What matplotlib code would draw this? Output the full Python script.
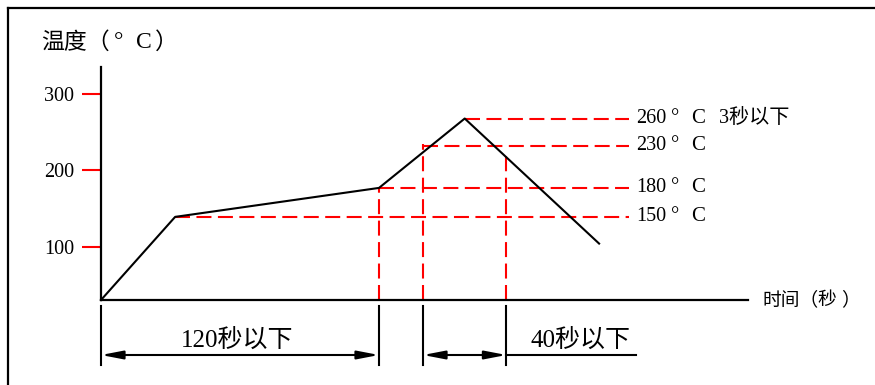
import matplotlib
matplotlib.use("Agg")
import matplotlib.pyplot as plt
from matplotlib.lines import Line2D

# ---- data (schematic reflow profile) ----
profile_time = [0, 32, 120, 157, 215]          # s
profile_temp = [30, 139, 177, 268, 104]        # °C (as drawn)

ref_temp_pos = [268, 232, 177, 139]            # drawn heights of the reference lines
ref_start_time = [157, 139, 120, 32]           # where each dashed line starts
ref_values = ["260", "230", "180", "150"]
ref_end_time = 228

vert_time = [120, 139, 175]                    # red vertical dashed markers
vert_top = [177, 235, 222]

ytick_vals = [100, 200, 300]
ytick_labels = ["100", "200", "300"]

dim1 = (0, 120, "120秒以下")
dim2 = (139, 175, "40秒以下")
dim_text_end = 231

# ---- scales: pixel mapping of the original diagram ----
PX_PER_S = 2.3167
PX_PER_C = 0.7625
W, H = 875, 385
X0, Y0 = 101, 300   # pixel of origin (t=0, T=30)

def tx(p):  # pixel x -> time
    return (p - X0) / PX_PER_S

def ty(p):  # pixel y -> temp
    return 30 + (Y0 - p) / PX_PER_C

serif = ["Liberation Serif", "Noto Sans CJK SC"]
cjk = ["Noto Sans CJK SC", "Liberation Serif"]

fig = plt.figure(figsize=(W / 100, H / 100), dpi=100)
ax = fig.add_axes([0, 0, 1, 1])
ax.set_xlim(tx(0), tx(W))
ax.set_ylim(ty(H), ty(0))

# spines as the diagram axes
for s in ["top", "right"]:
    ax.spines[s].set_visible(False)
ax.spines["left"].set_position(("data", 0))
ax.spines["bottom"].set_position(("data", 30))
ax.spines["left"].set_bounds(30, ty(67))
ax.spines["bottom"].set_bounds(0, tx(748))
for s in ["left", "bottom"]:
    ax.spines[s].set_linewidth(1.6)
    ax.spines[s].set_color("black")
ax.set_xticks([])
ax.set_yticks(ytick_vals)
ax.set_yticklabels(ytick_labels, family=serif, fontsize=14.5)
ax.tick_params(axis="y", direction="out", length=13.5, width=1.5, color="red", pad=6)
ax.patch.set_alpha(0)

# frame (top + left border)
fig.add_artist(Line2D([8 / W, 1], [1 - 8 / H, 1 - 8 / H], color="black", lw=1.6))
fig.add_artist(Line2D([8 / W, 8 / W], [0, 1 - 8 / H], color="black", lw=1.6))

dash = (0, (7.2, 3.1))
red = "#ff0000"

# reference horizontal lines with labels
for yv, xs, val in zip(ref_temp_pos, ref_start_time, ref_values):
    ax.plot([xs, ref_end_time], [yv, yv], color=red, lw=1.5, linestyle=dash)
    ax.text(ref_end_time + 3, yv, val, family=serif, fontsize=14.5, va="center", ha="left")
    ax.text(tx(671), yv, "°", family=serif, fontsize=15, va="center", ha="left")
    ax.text(tx(691), yv, "C", family=serif, fontsize=15, va="center", ha="left")
ax.text(tx(719), ref_temp_pos[0], "3秒以下", family=serif, fontsize=14.5, va="center", ha="left")

# vertical markers
for xv, top in zip(vert_time, vert_top):
    ax.plot([xv, xv], [30, top], color=red, lw=1.5, linestyle=dash)

# profile curve
ax.plot(profile_time, profile_temp, color="black", lw=1.5)

# axis titles
ax.text(tx(41), ty(42), "温度（", family=cjk, fontsize=16.5, va="center", ha="left")
ax.text(tx(114), ty(43), "°", family=serif, fontsize=17, va="center", ha="left")
ax.text(tx(136), ty(42), "C", family=serif, fontsize=17, va="center", ha="left")
ax.text(tx(155), ty(42), "）", family=cjk, fontsize=16.5, va="center", ha="left")
ax.text(tx(762), 30, "时间（", family=cjk, fontsize=13.5, va="center", ha="left")
ax.text(tx(817), 30, "秒", family=cjk, fontsize=13.5, va="center", ha="left")
ax.text(tx(841), 30, "）", family=cjk, fontsize=13.5, va="center", ha="left")

# dimension lines
ext_top, ext_bot = ty(306), ty(365)
for xv in [dim1[0], dim1[1], dim2[0], dim2[1]]:
    ax.plot([xv, xv], [ext_top, ext_bot], color="black", lw=1.5)
yarr = ty(355)
arrow = dict(arrowstyle="<|-|>,head_length=1.3,head_width=0.25", lw=1.5, color="black",
             shrinkA=0, shrinkB=0, mutation_scale=10)
for a, b, lab in [dim1, dim2]:
    ax.annotate("", xy=(b, yarr), xytext=(a, yarr), arrowprops=arrow)
ax.plot([dim2[1], dim_text_end], [yarr, yarr], color="black", lw=1.5)
ax.text(tx(237), ty(340), dim1[2], family=serif, fontsize=18, ha="center", va="center")
ax.text(tx(580), ty(340), dim2[2], family=serif, fontsize=18, ha="center", va="center")

fig.savefig("out.png", dpi=100)
